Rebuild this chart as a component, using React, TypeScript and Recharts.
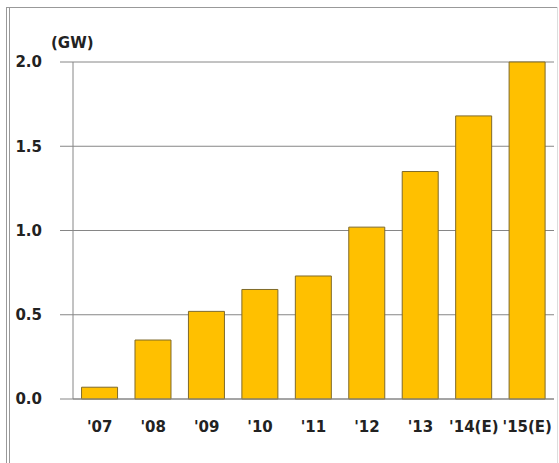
import { Bar, BarChart, CartesianGrid, XAxis, YAxis } from "recharts";

const YEARS = ["'07", "'08", "'09", "'10", "'11", "'12", "'13", "'14(E)", "'15(E)"];
const CAPACITY_GW = [0.07, 0.35, 0.52, 0.65, 0.73, 1.02, 1.35, 1.68, 2.0];
const Y_TICKS = [0, 0.5, 1.0, 1.5, 2.0];

const data = YEARS.map((year, i) => ({ year, value: CAPACITY_GW[i] }));

const FONT = "'DejaVu Sans', sans-serif";
const LINE = "#868686";
const tickStyle = { fontSize: 15, fontWeight: 700, fill: "#222", fontFamily: FONT };

export default function App() {
  return (
    <div style={{ position: "absolute", left: 0, top: 0, width: 559, height: 463, background: "#fff" }}>
      {/* frame lines around the slide box */}
      <div style={{ position: "absolute", left: 6, top: 7, width: 552, height: 1, background: "#999" }} />
      <div style={{ position: "absolute", left: 6, top: 7, width: 1, height: 456, background: "#999" }} />
      <div style={{ position: "absolute", left: 9, top: 7, width: 1, height: 456, background: "#999" }} />
      <div style={{ position: "absolute", left: 557, top: 7, width: 1, height: 456, background: "#ddd" }} />
      <span
        style={{
          position: "absolute",
          left: 51,
          top: 34,
          fontFamily: FONT,
          fontWeight: 700,
          fontSize: 15,
          color: "#222",
        }}
      >
        (GW)
      </span>
      <BarChart
        width={559}
        height={463}
        data={data}
        margin={{ top: 62, right: 5, bottom: 0, left: 0 }}
        barCategoryGap="16%"
      >
        <CartesianGrid vertical={false} stroke={LINE} strokeWidth={1} />
        <XAxis
          dataKey="year"
          height={64}
          axisLine={{ stroke: LINE }}
          tickLine={false}
          tickSize={0}
          tickMargin={22}
          tick={tickStyle}
          interval={0}
        />
        <YAxis
          width={73}
          domain={[0, 2]}
          ticks={Y_TICKS}
          tickFormatter={(v: number) => v.toFixed(1)}
          axisLine={{ stroke: LINE }}
          tickLine={{ stroke: LINE }}
          tickSize={13}
          tickMargin={18}
          tick={tickStyle}
        />
        <Bar dataKey="value" fill="#FFC000" stroke="#7f6a2a" strokeWidth={1} isAnimationActive={false} />
      </BarChart>
    </div>
  );
}
